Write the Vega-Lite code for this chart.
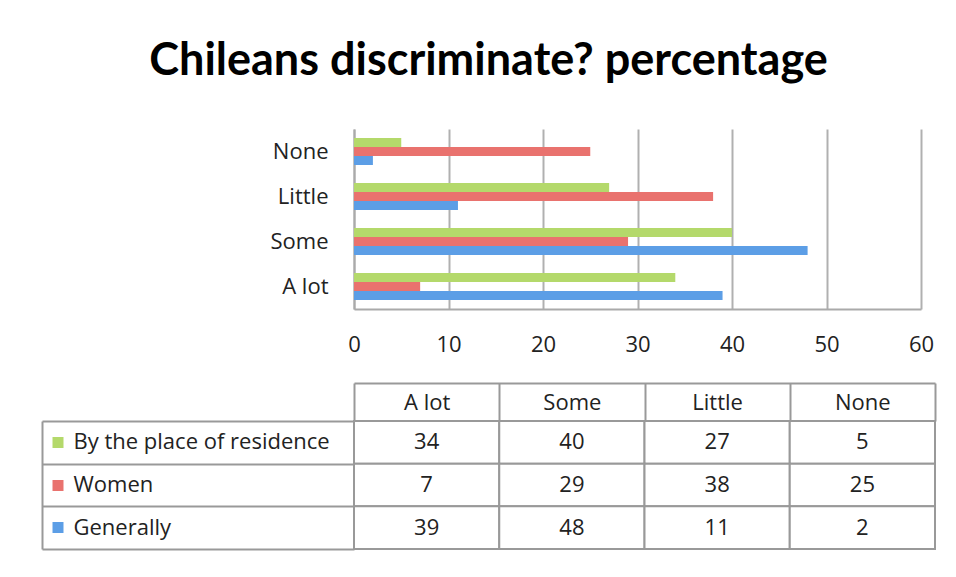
{
  "$schema": "https://vega.github.io/schema/vega-lite/v6.json",
  "background": "white",
  "padding": {"left": 41, "top": 39, "right": 5, "bottom": 5},
  "title": {"text": "Chileans discriminate? percentage", "font": "Lato", "fontSize": 45, "fontWeight": "bold", "color": "#000000", "anchor": "middle", "offset": 45},
  "data": {"values": [
    {"series": "By the place of residence", "category": "A lot", "value": 34},
    {"series": "By the place of residence", "category": "Some", "value": 40},
    {"series": "By the place of residence", "category": "Little", "value": 27},
    {"series": "By the place of residence", "category": "None", "value": 5},
    {"series": "Women", "category": "A lot", "value": 7},
    {"series": "Women", "category": "Some", "value": 29},
    {"series": "Women", "category": "Little", "value": 38},
    {"series": "Women", "category": "None", "value": 25},
    {"series": "Generally", "category": "A lot", "value": 39},
    {"series": "Generally", "category": "Some", "value": 48},
    {"series": "Generally", "category": "Little", "value": 11},
    {"series": "Generally", "category": "None", "value": 2}
  ]},
  "bounds": "flush",
  "spacing": 112,
  "vconcat": [
    {
      "width": 567,
      "height": 180,
      "mark": {"type": "bar"},
      "encoding": {
        "y": {"field": "category", "type": "nominal", "sort": ["None", "Little", "Some", "A lot"],
              "scale": {"paddingInner": 0.4, "paddingOuter": 0.2},
              "axis": {"title": null, "ticks": false, "labelPadding": 26, "domainColor": "#aaaaaa", "domainWidth": 2}},
        "yOffset": {"field": "series", "type": "nominal", "sort": ["By the place of residence", "Women", "Generally"],
                    "scale": {"paddingInner": 0, "paddingOuter": 0}},
        "x": {"field": "value", "type": "quantitative", "scale": {"domain": [0, 60], "nice": false},
              "axis": {"title": null, "values": [0, 10, 20, 30, 40, 50, 60], "ticks": false, "labelFlush": false, "labelPadding": 25,
                       "gridColor": "#b0b0b0", "gridWidth": 2, "domainColor": "#aaaaaa", "domainWidth": 2}},
        "color": {"field": "series", "type": "nominal",
                  "scale": {"domain": ["By the place of residence", "Women", "Generally"], "range": ["#b4d96b", "#e9726e", "#5c9ee6"]},
                  "legend": null}
      }
    },
    {
      "width": 581,
      "height": 128,
      "resolve": {"axis": {"x": "independent", "y": "independent"}},
      "layer": [
        {
          "mark": {"type": "rect", "fill": "white", "stroke": "#999999", "strokeWidth": 2},
          "encoding": {
            "x": {"field": "category", "type": "nominal", "sort": ["A lot", "Some", "Little", "None"],
                  "scale": {"paddingInner": 0, "paddingOuter": 0},
                  "axis": {"orient": "top", "title": null, "domain": false, "grid": false, "tickBand": "extent", "tickSize": 38,
                           "tickColor": "#999999", "tickWidth": 2, "labelPadding": -19, "labelBaseline": "middle", "labelAngle": 0}},
            "y": {"field": "series", "type": "nominal", "sort": ["By the place of residence", "Women", "Generally"],
                  "scale": {"paddingInner": 0, "paddingOuter": 0},
                  "axis": {"orient": "left", "title": null, "domain": false, "grid": false, "labels": false, "tickBand": "extent",
                           "tickSize": 312, "tickColor": "#999999", "tickWidth": 2}}
          }
        },
        {
          "mark": {"type": "text", "fontSize": 22, "color": "#222222", "font": "Open Sans"},
          "encoding": {
            "text": {"field": "value", "type": "quantitative"},
            "x": {"field": "category", "type": "nominal", "sort": ["A lot", "Some", "Little", "None"],
                  "axis": {"orient": "top", "offset": 38, "title": null, "labels": false, "ticks": false, "grid": false,
                           "domain": true, "domainColor": "#999999", "domainWidth": 2}},
            "y": {"field": "series", "type": "nominal", "sort": ["By the place of residence", "Women", "Generally"],
                  "axis": {"orient": "left", "offset": 312, "title": null, "labels": false, "ticks": false, "grid": false,
                           "domain": true, "domainColor": "#999999", "domainWidth": 2}}
          }
        },
        {
          "mark": {"type": "rect", "opacity": 0},
          "encoding": {
            "x": {"field": "category", "type": "nominal", "sort": ["A lot", "Some", "Little", "None"], "axis": null},
            "y": {"field": "series", "type": "nominal", "sort": ["By the place of residence", "Women", "Generally"],
                  "axis": {"orient": "left", "offset": 291, "title": null, "domain": false, "grid": false,
                           "tickSize": 11, "tickWidth": 11,
                           "tickColor": {"condition": [{"test": "datum.value === 'Women'", "value": "#e9726e"}, {"test": "datum.value === 'Generally'", "value": "#5c9ee6"}], "value": "#b4d96b"},
                           "labelAlign": "left", "labelPadding": -21, "labelLimit": 400}}
          }
        }
      ]
    }
  ],
  "config": {
    "view": {"stroke": null},
    "font": "Open Sans",
    "axis": {"labelFont": "Open Sans", "labelFontSize": 22, "labelColor": "#222222"},
    "text": {"font": "Open Sans"}
  }
}
